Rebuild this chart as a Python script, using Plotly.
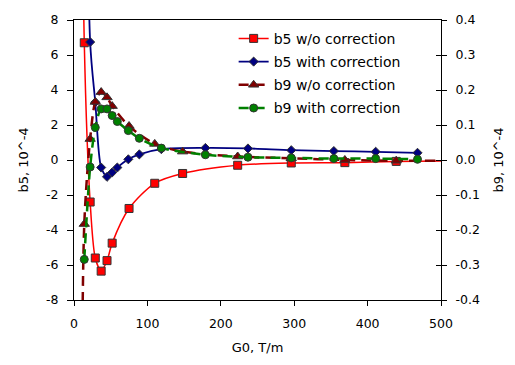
import plotly.graph_objects as go

# Field gradient values (T/m) for the uncorrected runs and the corrected runs
g0_wo = [10, 14, 22, 29, 37, 45, 52, 75, 110, 148, 223, 296, 369, 439, 520]
g0_with = [14, 22, 29, 37, 45, 52, 59, 74, 89, 119, 179, 237, 296, 354, 411, 468]

# Multipole harmonics, units of 1e-4
b5_wo = [25.0, 6.7, -2.4, -5.6, -6.35, -5.75, -4.75, -2.77, -1.33, -0.77, -0.30, -0.17, -0.15, -0.08, -0.05]
b5_with = [40.0, 6.74, 3.3, -0.43, -0.96, -0.71, -0.43, 0.04, 0.32, 0.62, 0.69, 0.66, 0.56, 0.51, 0.47, 0.41]
b9_wo = [-1.0, -0.183, 0.06, 0.166, 0.194, 0.179, 0.154, 0.097, 0.046, 0.024, 0.010, 0.005, 0.0, -0.002, -0.002]
b9_with = [-0.284, -0.020, 0.093, 0.146, 0.146, 0.127, 0.110, 0.084, 0.062, 0.034, 0.015, 0.008, 0.006, 0.004, 0.004, 0.002]

# Axis ticks
x_ticks = [0, 100, 200, 300, 400, 500]
x_labels = ["0", "100", "200", "300", "400", "500"]
b5_ticks = [-8, -6, -4, -2, 0, 2, 4, 6, 8]
b5_labels = ["-8", "-6", "-4", "-2", "0", "2", "4", "6", "8"]
b9_ticks = [-0.4, -0.3, -0.2, -0.1, 0.0, 0.1, 0.2, 0.3, 0.4]
b9_labels = ["-0.4", "-0.3", "-0.2", "-0.1", "0.0", "0.1", "0.2", "0.3", "0.4"]

FONT = "DejaVu Sans"
EDGE = dict(color="#333333", width=1)

fig = go.Figure()

fig.add_trace(go.Scatter(
    x=g0_wo, y=b5_wo, name="b5 w/o correction", mode="lines+markers",
    line=dict(color="#ff0000", width=1.5, shape="spline", smoothing=0.8),
    marker=dict(symbol="square", size=8, color="#ff0000", line=EDGE),
    legendgroup="a",
))
fig.add_trace(go.Scatter(
    x=g0_with, y=b5_with, name="b5 with correction", mode="lines+markers",
    line=dict(color="#000080", width=1.8, shape="spline", smoothing=0.8),
    marker=dict(symbol="diamond", size=7, color="#000080", line=EDGE),
    legendgroup="b",
))
fig.add_trace(go.Scatter(
    x=g0_wo, y=b9_wo, name="b9 w/o correction", mode="lines+markers", yaxis="y2",
    line=dict(color="#800000", width=2.5, dash="10px,6px", shape="spline", smoothing=0.8),
    marker=dict(symbol="triangle-up", size=9, color="#800000", line=EDGE),
    legendgroup="c",
))
fig.add_trace(go.Scatter(
    x=g0_with, y=b9_with, name="b9 with correction", mode="lines+markers", yaxis="y2",
    line=dict(color="#008000", width=2.5, dash="10px,6px", shape="spline", smoothing=0.8),
    marker=dict(symbol="circle", size=8, color="#008000", line=EDGE),
    legendgroup="d",
))
# Inward half of the crossing tick marks on the right axis
fig.add_trace(go.Scatter(x=[None], y=[None], yaxis="y3", showlegend=False, hoverinfo="skip"))

tick_font = dict(family=FONT, size=12.5, color="black")
title_font = dict(family=FONT, size=13, color="black")

fig.update_layout(
    width=515, height=365,
    margin=dict(l=74, r=73, t=16, b=65),
    paper_bgcolor="white", plot_bgcolor="white",
    font=dict(family=FONT, color="black"),
    showlegend=True,
    legend=dict(
        x=0.435, y=0.99, xanchor="left", yanchor="top",
        bgcolor="rgba(0,0,0,0)", borderwidth=0,
        font=dict(family=FONT, size=14, color="black"),
        tracegroupgap=2, traceorder="grouped",
    ),
    xaxis=dict(
        range=[0, 500], tickvals=x_ticks, ticktext=x_labels,
        showline=True, linecolor="black", linewidth=1, mirror=True,
        ticks="outside", ticklen=5, tickcolor="black",
        showgrid=False, zeroline=False, tickfont=tick_font,
        ticklabelstandoff=7,
        title=dict(text="G0, T/m", font=title_font, standoff=12),
    ),
    yaxis=dict(
        range=[-8, 8], tickvals=b5_ticks, ticktext=b5_labels,
        showline=True, linecolor="black", linewidth=1,
        ticks="outside", ticklen=6, tickcolor="black",
        showgrid=False, zeroline=False, tickfont=tick_font,
        ticklabelstandoff=6,
        title=dict(text="b5, 10^-4", font=title_font, standoff=14),
    ),
    yaxis2=dict(
        range=[-0.4, 0.4], tickvals=b9_ticks, ticktext=b9_labels,
        overlaying="y", side="right",
        showline=True, linecolor="black", linewidth=1,
        ticks="outside", ticklen=5, tickcolor="black",
        showgrid=False, zeroline=False, tickfont=tick_font,
        ticklabelstandoff=6,
        title=dict(text="b9, 10^-4", font=title_font, standoff=14),
    ),
    yaxis3=dict(
        range=[-0.4, 0.4], tickvals=b9_ticks, overlaying="y", side="right",
        showline=False, showticklabels=False, showgrid=False, zeroline=False,
        ticks="inside", ticklen=5, tickcolor="black",
    ),
)

fig.write_html("out.html")
